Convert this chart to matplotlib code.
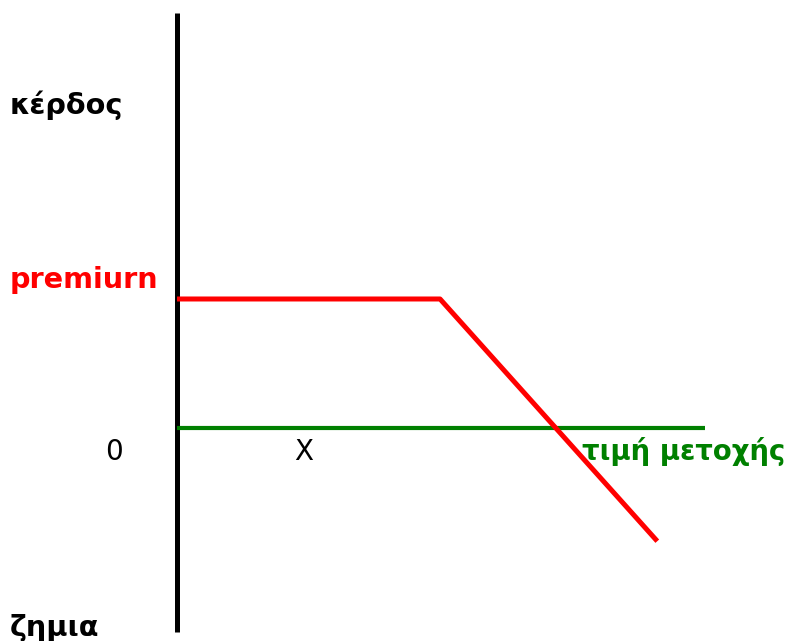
import matplotlib
matplotlib.use('Agg')
from matplotlib import pyplot as plt

# stock price axis and profit values (arbitrary units)
price = [0, 5, 9.13]
payoff = [3, 3, -2.63]
zero_line_x = [0, 10.04]
zero_line_y = [0, 0]
axis_y = [-4.74, 9.65]
strike_x = 2.4

fig = plt.figure(figsize=(7.93, 6.41), dpi=100)
ax = fig.add_axes([0, 0, 1, 1])
ax.set_xlim(-3.365, 11.71)
ax.set_ylim(-4.95, 9.95)
ax.axis('off')

ax.plot([0, 0], axis_y, color='black', lw=3.6, solid_capstyle='butt')
ax.plot(zero_line_x, zero_line_y, color='green', lw=3, solid_capstyle='butt')
ax.plot(price, payoff, color='red', lw=3.6, solid_capstyle='butt')

bold = dict(fontweight='bold', fontsize=20.7, family='DejaVu Sans')
ax.text(-3.18, 7.5, 'κέρδος', color='black', va='center', ha='left', **bold)
ax.text(-3.18, 3.45, 'premiurn', color='red', va='center', ha='left', **bold)
ax.text(-3.18, -4.65, 'ζημια', color='black', va='center', ha='left', **bold)
ax.text(7.7, -0.55, 'τιμή μετοχής', color='green', va='center', ha='left',
        fontweight='bold', fontsize=19.8, family='DejaVu Sans')
ax.text(-1.2, -0.55, '0', color='black', va='center', ha='center', fontsize=20)
ax.text(strike_x, -0.55, 'X', color='black', va='center', ha='center', fontsize=20)

fig.savefig('out.png', dpi=100)
